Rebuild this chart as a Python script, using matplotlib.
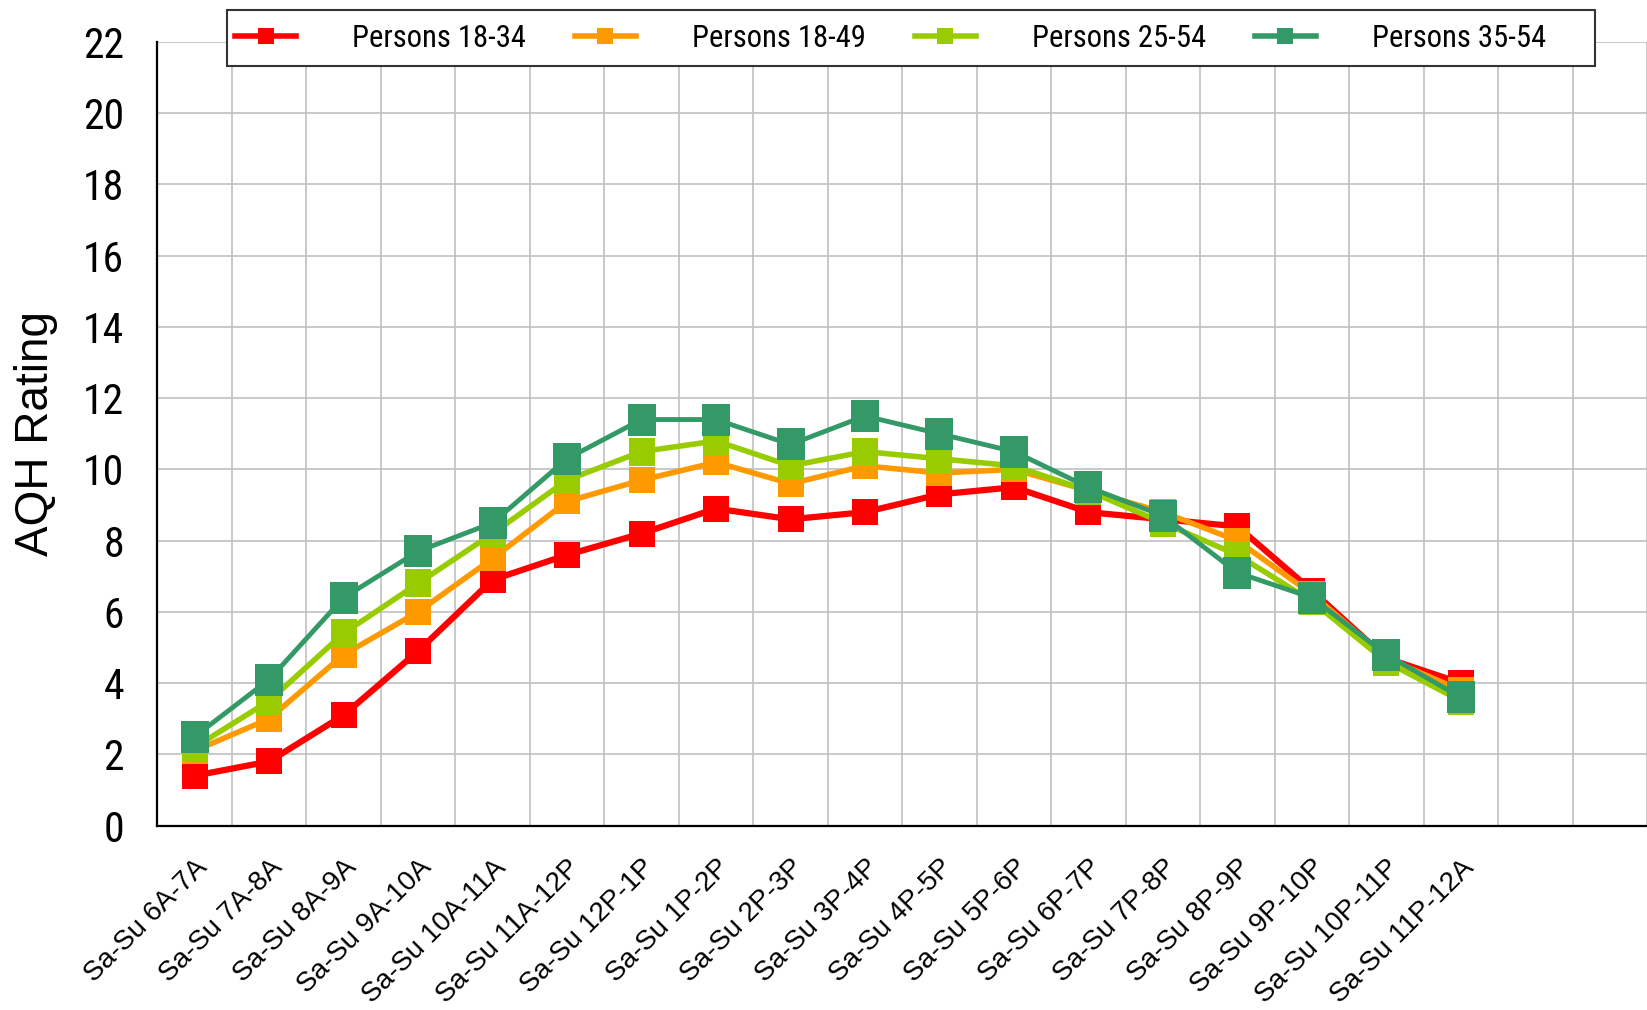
import matplotlib
matplotlib.use("Agg")
import matplotlib.pyplot as plt
from matplotlib import font_manager as fm
from matplotlib.patches import Rectangle
from matplotlib.transforms import ScaledTranslation
import numpy as np

# dayparts (Saturday-Sunday)
dayparts = ['Sa-Su 6A-7A', 'Sa-Su 7A-8A', 'Sa-Su 8A-9A', 'Sa-Su 9A-10A',
            'Sa-Su 10A-11A', 'Sa-Su 11A-12P', 'Sa-Su 12P-1P', 'Sa-Su 1P-2P',
            'Sa-Su 2P-3P', 'Sa-Su 3P-4P', 'Sa-Su 4P-5P', 'Sa-Su 5P-6P',
            'Sa-Su 6P-7P', 'Sa-Su 7P-8P', 'Sa-Su 8P-9P', 'Sa-Su 9P-10P',
            'Sa-Su 10P-11P', 'Sa-Su 11P-12A']
n_slots = 20  # chart has room for two more (empty) categories

p18_34 = [1.4, 1.8, 3.1, 4.9, 6.9, 7.6, 8.2, 8.9, 8.6, 8.8, 9.3, 9.5,
          8.8, 8.6, 8.4, 6.6, 4.7, 4.0]
p18_49 = [2.1, 3.0, 4.8, 6.0, 7.5, 9.1, 9.7, 10.2, 9.6, 10.1, 9.9, 10.0,
          9.4, 8.8, 8.0, 6.5, 4.7, 3.8]
p25_54 = [2.2, 3.5, 5.4, 6.8, 8.2, 9.7, 10.5, 10.8, 10.1, 10.5, 10.3, 10.1,
          9.4, 8.5, 7.6, 6.3, 4.6, 3.5]
p35_54 = [2.5, 4.1, 6.4, 7.7, 8.5, 10.3, 11.4, 11.4, 10.7, 11.5, 11.0, 10.5,
          9.5, 8.7, 7.1, 6.4, 4.8, 3.6]

# (label, values, colour, line width, marker height pt, marker w/h ratio)
series = [
    ('Persons 18-34', p18_34, '#FF0000', 4.5, 19.0, 0.95),
    ('Persons 18-49', p18_49, '#FF9900', 4.0, 19.0, 0.95),
    ('Persons 25-54', p25_54, '#99CC00', 4.0, 19.5, 0.95),
    ('Persons 35-54', p35_54, '#339966', 3.5, 22.8, 0.86),
]

regular = ['Liberation Sans', 'DejaVu Sans']


def find_narrow_font():
    """Look for an installed narrow/condensed sans (legend + y ticks use one)."""
    prefs = ['liberationsansnarrow-regular', 'arialn', 'robotocondensed-regular',
             'dejavusanscondensed.', 'opensanscondensed']
    files = [f.fname for f in fm.fontManager.ttflist]
    for p in prefs:
        for fn in files:
            if p in fn.lower().replace('_', '').replace(' ', ''):
                return fn
    return None


def rect_marker(ratio):
    w = ratio
    return [(-w, -1), (w, -1), (w, 1), (-w, 1), (-w, -1)]


narrow_file = find_narrow_font()
if narrow_file:
    leg_size, tick_prop = 22.1, dict(fname=narrow_file, size=30)
    text_w = 172
else:
    leg_size, tick_prop = 19.5, dict(family=regular, size=30)
    text_w = 6.49 * 19.5 * 100 / 72.0
leg_prop = fm.FontProperties(**(dict(fname=narrow_file) if narrow_file
                                else dict(family=regular)), size=leg_size)
em = leg_size * 100 / 72.0  # px per em at 100 dpi

fig = plt.figure(figsize=(16.47, 10.10), dpi=100)
ax = fig.add_axes([0.0956, 0.1826, 0.9044, 0.7758])

x = np.arange(len(dayparts))
for label, vals, color, lw, ms, ratio in series:
    ax.plot(x, vals, color=color, linewidth=lw, marker=rect_marker(ratio),
            markersize=ms, markeredgewidth=0, label=label, clip_on=False)

ax.set_xlim(-0.5, 19.305)
ax.set_ylim(0, 22)
ax.set_yticks(np.arange(0, 23, 2))
ax.set_xticks(x)
ax.set_xticklabels(dayparts, rotation=45, ha='right', va='top',
                   rotation_mode='anchor', fontsize=20, family=regular)
ax.set_xticks(np.arange(-0.5, n_slots, 1), minor=True)
shift = ScaledTranslation(-5 / 100, 0, fig.dpi_scale_trans)
for t in ax.get_xticklabels():
    t.set_transform(t.get_transform() + shift)
for t in ax.get_yticklabels():
    t.set_fontproperties(fm.FontProperties(**tick_prop))

ax.tick_params(axis='x', which='both', length=0, pad=21)
ax.tick_params(axis='y', length=0, pad=24)
ax.grid(True, axis='y', which='major', color='#C0C0C0', linewidth=1.2)
ax.grid(True, axis='x', which='minor', color='#C0C0C0', linewidth=1.2)
ax.grid(False, axis='x', which='major')
ax.set_axisbelow(True)

for side in ['top', 'right']:
    ax.spines[side].set_visible(False)
for side in ['left', 'bottom']:
    ax.spines[side].set_color('black')
    ax.spines[side].set_linewidth(1.6)

ax.set_ylabel('AQH Rating', fontsize=33, family=regular)
ax.yaxis.set_label_coords(-0.067, 0.5)

# column pitch in the reference is ~338 px: handle 61, gap 56, text, spacing
leg = fig.legend(loc='center left', bbox_to_anchor=(0.1427, 1 - 38.5 / 1010),
                 ncol=4, frameon=False, borderpad=0, borderaxespad=0,
                 handlelength=61 / em, handletextpad=56 / em,
                 columnspacing=(338 - 61 - 56 - text_w) / em, prop=leg_prop)
for h in leg.legend_handles:
    h.set_marker('s')
    h.set_markersize(12)
    h.set_linewidth(4)

# legend frame (Excel-style box spanning the top of the chart)
fig.patches.append(Rectangle((0.1378, 0.9350), 0.8306, 0.0551,
                             transform=fig.transFigure, fill=True,
                             facecolor='white', edgecolor='#333333',
                             linewidth=1.5, zorder=0))

fig.savefig('out.png', dpi=100)
